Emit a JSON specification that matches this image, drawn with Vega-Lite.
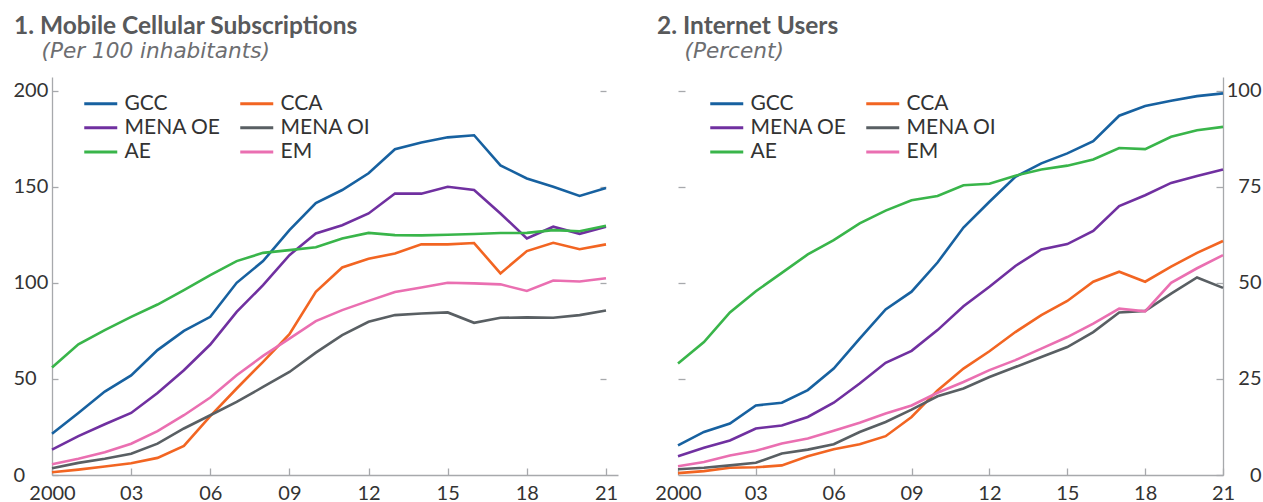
{
  "$schema": "https://vega.github.io/schema/vega-lite/v6.json",
  "background": "white",
  "padding": {"left": 13, "top": 13, "right": 2, "bottom": 0},
  "bounds": "flush",
  "spacing": 60,
  "config": {
    "font": "Lato",
    "view": {"stroke": null},
    "title": {"fontSize": 24.5, "fontWeight": "bold", "color": "#58595b", "anchor": "start", "frame": "group", "subtitleFont": "DejaVu Sans", "subtitleFontSize": 21.6, "subtitleFontStyle": "italic", "subtitleColor": "#6d6e71", "subtitlePadding": 2, "offset": 13.4},
    "axis": {"labelFont": "Lato", "labelFontSize": 20, "labelColor": "#333333", "domainColor": "#a7a9ac", "tickColor": "#a7a9ac", "domainWidth": 1.3, "tickWidth": 1.3, "grid": false, "title": null},
    "legend": {"labelFont": "Lato", "labelFontSize": 21, "labelColor": "#333333"}
  },
  "resolve": {"scale": {"color": "independent"}},
  "datasets": {
    "mobile": [
      {"year": 2000, "series": "GCC", "value": 21.5}, {"year": 2001, "series": "GCC", "value": 32.3}, {"year": 2002, "series": "GCC", "value": 43.4}, {"year": 2003, "series": "GCC", "value": 51.8}, {"year": 2004, "series": "GCC", "value": 65}, {"year": 2005, "series": "GCC", "value": 75}, {"year": 2006, "series": "GCC", "value": 82.3}, {"year": 2007, "series": "GCC", "value": 100}, {"year": 2008, "series": "GCC", "value": 111.3}, {"year": 2009, "series": "GCC", "value": 127.4}, {"year": 2010, "series": "GCC", "value": 141.5}, {"year": 2011, "series": "GCC", "value": 148.3}, {"year": 2012, "series": "GCC", "value": 157}, {"year": 2013, "series": "GCC", "value": 169.5}, {"year": 2014, "series": "GCC", "value": 173}, {"year": 2015, "series": "GCC", "value": 175.7}, {"year": 2016, "series": "GCC", "value": 176.8}, {"year": 2017, "series": "GCC", "value": 161.1}, {"year": 2018, "series": "GCC", "value": 154.3}, {"year": 2019, "series": "GCC", "value": 150}, {"year": 2020, "series": "GCC", "value": 145.2}, {"year": 2021, "series": "GCC", "value": 149.3},
      {"year": 2000, "series": "CCA", "value": 1.4}, {"year": 2001, "series": "CCA", "value": 2.8}, {"year": 2002, "series": "CCA", "value": 4.4}, {"year": 2003, "series": "CCA", "value": 6.1}, {"year": 2004, "series": "CCA", "value": 8.9}, {"year": 2005, "series": "CCA", "value": 15.1}, {"year": 2006, "series": "CCA", "value": 30.6}, {"year": 2007, "series": "CCA", "value": 45}, {"year": 2008, "series": "CCA", "value": 58.9}, {"year": 2009, "series": "CCA", "value": 73.3}, {"year": 2010, "series": "CCA", "value": 95.3}, {"year": 2011, "series": "CCA", "value": 108}, {"year": 2012, "series": "CCA", "value": 112.5}, {"year": 2013, "series": "CCA", "value": 115.3}, {"year": 2014, "series": "CCA", "value": 120}, {"year": 2015, "series": "CCA", "value": 120}, {"year": 2016, "series": "CCA", "value": 120.7}, {"year": 2017, "series": "CCA", "value": 104.9}, {"year": 2018, "series": "CCA", "value": 116.5}, {"year": 2019, "series": "CCA", "value": 120.8}, {"year": 2020, "series": "CCA", "value": 117.5}, {"year": 2021, "series": "CCA", "value": 120},
      {"year": 2000, "series": "MENA OE", "value": 13.2}, {"year": 2001, "series": "MENA OE", "value": 20.2}, {"year": 2002, "series": "MENA OE", "value": 26.4}, {"year": 2003, "series": "MENA OE", "value": 32.3}, {"year": 2004, "series": "MENA OE", "value": 42.7}, {"year": 2005, "series": "MENA OE", "value": 54.5}, {"year": 2006, "series": "MENA OE", "value": 67.9}, {"year": 2007, "series": "MENA OE", "value": 84.9}, {"year": 2008, "series": "MENA OE", "value": 98.8}, {"year": 2009, "series": "MENA OE", "value": 114.4}, {"year": 2010, "series": "MENA OE", "value": 125.7}, {"year": 2011, "series": "MENA OE", "value": 130}, {"year": 2012, "series": "MENA OE", "value": 136.1}, {"year": 2013, "series": "MENA OE", "value": 146.5}, {"year": 2014, "series": "MENA OE", "value": 146.4}, {"year": 2015, "series": "MENA OE", "value": 150}, {"year": 2016, "series": "MENA OE", "value": 148.3}, {"year": 2017, "series": "MENA OE", "value": 136.1}, {"year": 2018, "series": "MENA OE", "value": 123.1}, {"year": 2019, "series": "MENA OE", "value": 129.2}, {"year": 2020, "series": "MENA OE", "value": 125.5}, {"year": 2021, "series": "MENA OE", "value": 129.2},
      {"year": 2000, "series": "MENA OI", "value": 3.5}, {"year": 2001, "series": "MENA OI", "value": 6.3}, {"year": 2002, "series": "MENA OI", "value": 8.5}, {"year": 2003, "series": "MENA OI", "value": 11.1}, {"year": 2004, "series": "MENA OI", "value": 16.3}, {"year": 2005, "series": "MENA OI", "value": 24.2}, {"year": 2006, "series": "MENA OI", "value": 31.1}, {"year": 2007, "series": "MENA OI", "value": 38}, {"year": 2008, "series": "MENA OI", "value": 45.8}, {"year": 2009, "series": "MENA OI", "value": 53.6}, {"year": 2010, "series": "MENA OI", "value": 63.7}, {"year": 2011, "series": "MENA OI", "value": 72.8}, {"year": 2012, "series": "MENA OI", "value": 79.7}, {"year": 2013, "series": "MENA OI", "value": 83.2}, {"year": 2014, "series": "MENA OI", "value": 84}, {"year": 2015, "series": "MENA OI", "value": 84.6}, {"year": 2016, "series": "MENA OI", "value": 79.2}, {"year": 2017, "series": "MENA OI", "value": 81.8}, {"year": 2018, "series": "MENA OI", "value": 82}, {"year": 2019, "series": "MENA OI", "value": 81.8}, {"year": 2020, "series": "MENA OI", "value": 83.2}, {"year": 2021, "series": "MENA OI", "value": 85.6},
      {"year": 2000, "series": "AE", "value": 55.9}, {"year": 2001, "series": "AE", "value": 68}, {"year": 2002, "series": "AE", "value": 75.4}, {"year": 2003, "series": "AE", "value": 82.3}, {"year": 2004, "series": "AE", "value": 88.7}, {"year": 2005, "series": "AE", "value": 96.2}, {"year": 2006, "series": "AE", "value": 104}, {"year": 2007, "series": "AE", "value": 111.3}, {"year": 2008, "series": "AE", "value": 115.6}, {"year": 2009, "series": "AE", "value": 117}, {"year": 2010, "series": "AE", "value": 118.5}, {"year": 2011, "series": "AE", "value": 123.1}, {"year": 2012, "series": "AE", "value": 126}, {"year": 2013, "series": "AE", "value": 124.8}, {"year": 2014, "series": "AE", "value": 124.7}, {"year": 2015, "series": "AE", "value": 125}, {"year": 2016, "series": "AE", "value": 125.4}, {"year": 2017, "series": "AE", "value": 125.9}, {"year": 2018, "series": "AE", "value": 126}, {"year": 2019, "series": "AE", "value": 127.4}, {"year": 2020, "series": "AE", "value": 126.8}, {"year": 2021, "series": "AE", "value": 129.7},
      {"year": 2000, "series": "EM", "value": 5.6}, {"year": 2001, "series": "EM", "value": 8.5}, {"year": 2002, "series": "EM", "value": 11.8}, {"year": 2003, "series": "EM", "value": 16.3}, {"year": 2004, "series": "EM", "value": 22.8}, {"year": 2005, "series": "EM", "value": 31.1}, {"year": 2006, "series": "EM", "value": 40.3}, {"year": 2007, "series": "EM", "value": 51.9}, {"year": 2008, "series": "EM", "value": 62}, {"year": 2009, "series": "EM", "value": 71}, {"year": 2010, "series": "EM", "value": 80.1}, {"year": 2011, "series": "EM", "value": 85.8}, {"year": 2012, "series": "EM", "value": 90.6}, {"year": 2013, "series": "EM", "value": 95.2}, {"year": 2014, "series": "EM", "value": 97.6}, {"year": 2015, "series": "EM", "value": 100}, {"year": 2016, "series": "EM", "value": 99.7}, {"year": 2017, "series": "EM", "value": 99.2}, {"year": 2018, "series": "EM", "value": 95.8}, {"year": 2019, "series": "EM", "value": 101.2}, {"year": 2020, "series": "EM", "value": 100.7}, {"year": 2021, "series": "EM", "value": 102.4}
    ],
    "internet": [
      {"year": 2000, "series": "GCC", "value": 7.7}, {"year": 2001, "series": "GCC", "value": 11.2}, {"year": 2002, "series": "GCC", "value": 13.4}, {"year": 2003, "series": "GCC", "value": 18.1}, {"year": 2004, "series": "GCC", "value": 18.8}, {"year": 2005, "series": "GCC", "value": 22.1}, {"year": 2006, "series": "GCC", "value": 27.7}, {"year": 2007, "series": "GCC", "value": 35.5}, {"year": 2008, "series": "GCC", "value": 43.1}, {"year": 2009, "series": "GCC", "value": 47.7}, {"year": 2010, "series": "GCC", "value": 55.3}, {"year": 2011, "series": "GCC", "value": 64.4}, {"year": 2012, "series": "GCC", "value": 71.1}, {"year": 2013, "series": "GCC", "value": 77.6}, {"year": 2014, "series": "GCC", "value": 81.1}, {"year": 2015, "series": "GCC", "value": 83.7}, {"year": 2016, "series": "GCC", "value": 86.9}, {"year": 2017, "series": "GCC", "value": 93.5}, {"year": 2018, "series": "GCC", "value": 96}, {"year": 2019, "series": "GCC", "value": 97.4}, {"year": 2020, "series": "GCC", "value": 98.6}, {"year": 2021, "series": "GCC", "value": 99.3},
      {"year": 2000, "series": "CCA", "value": 0.5}, {"year": 2001, "series": "CCA", "value": 1}, {"year": 2002, "series": "CCA", "value": 1.9}, {"year": 2003, "series": "CCA", "value": 2}, {"year": 2004, "series": "CCA", "value": 2.5}, {"year": 2005, "series": "CCA", "value": 4.9}, {"year": 2006, "series": "CCA", "value": 6.7}, {"year": 2007, "series": "CCA", "value": 8}, {"year": 2008, "series": "CCA", "value": 10.1}, {"year": 2009, "series": "CCA", "value": 15.1}, {"year": 2010, "series": "CCA", "value": 22}, {"year": 2011, "series": "CCA", "value": 27.7}, {"year": 2012, "series": "CCA", "value": 32.2}, {"year": 2013, "series": "CCA", "value": 37.2}, {"year": 2014, "series": "CCA", "value": 41.6}, {"year": 2015, "series": "CCA", "value": 45.3}, {"year": 2016, "series": "CCA", "value": 50.3}, {"year": 2017, "series": "CCA", "value": 52.9}, {"year": 2018, "series": "CCA", "value": 50.3}, {"year": 2019, "series": "CCA", "value": 54.2}, {"year": 2020, "series": "CCA", "value": 57.8}, {"year": 2021, "series": "CCA", "value": 60.9},
      {"year": 2000, "series": "MENA OE", "value": 4.9}, {"year": 2001, "series": "MENA OE", "value": 7.1}, {"year": 2002, "series": "MENA OE", "value": 9}, {"year": 2003, "series": "MENA OE", "value": 12.1}, {"year": 2004, "series": "MENA OE", "value": 12.9}, {"year": 2005, "series": "MENA OE", "value": 15.1}, {"year": 2006, "series": "MENA OE", "value": 18.8}, {"year": 2007, "series": "MENA OE", "value": 23.8}, {"year": 2008, "series": "MENA OE", "value": 29.2}, {"year": 2009, "series": "MENA OE", "value": 32.3}, {"year": 2010, "series": "MENA OE", "value": 37.7}, {"year": 2011, "series": "MENA OE", "value": 43.9}, {"year": 2012, "series": "MENA OE", "value": 49}, {"year": 2013, "series": "MENA OE", "value": 54.4}, {"year": 2014, "series": "MENA OE", "value": 58.7}, {"year": 2015, "series": "MENA OE", "value": 60.1}, {"year": 2016, "series": "MENA OE", "value": 63.5}, {"year": 2017, "series": "MENA OE", "value": 70}, {"year": 2018, "series": "MENA OE", "value": 72.8}, {"year": 2019, "series": "MENA OE", "value": 76}, {"year": 2020, "series": "MENA OE", "value": 77.8}, {"year": 2021, "series": "MENA OE", "value": 79.5},
      {"year": 2000, "series": "MENA OI", "value": 1.5}, {"year": 2001, "series": "MENA OI", "value": 1.9}, {"year": 2002, "series": "MENA OI", "value": 2.5}, {"year": 2003, "series": "MENA OI", "value": 3.2}, {"year": 2004, "series": "MENA OI", "value": 5.6}, {"year": 2005, "series": "MENA OI", "value": 6.6}, {"year": 2006, "series": "MENA OI", "value": 8}, {"year": 2007, "series": "MENA OI", "value": 11.2}, {"year": 2008, "series": "MENA OI", "value": 13.8}, {"year": 2009, "series": "MENA OI", "value": 17}, {"year": 2010, "series": "MENA OI", "value": 20.5}, {"year": 2011, "series": "MENA OI", "value": 22.5}, {"year": 2012, "series": "MENA OI", "value": 25.5}, {"year": 2013, "series": "MENA OI", "value": 28.1}, {"year": 2014, "series": "MENA OI", "value": 30.7}, {"year": 2015, "series": "MENA OI", "value": 33.3}, {"year": 2016, "series": "MENA OI", "value": 37.2}, {"year": 2017, "series": "MENA OI", "value": 42.3}, {"year": 2018, "series": "MENA OI", "value": 42.7}, {"year": 2019, "series": "MENA OI", "value": 47.2}, {"year": 2020, "series": "MENA OI", "value": 51.4}, {"year": 2021, "series": "MENA OI", "value": 48.7},
      {"year": 2000, "series": "AE", "value": 29}, {"year": 2001, "series": "AE", "value": 34.6}, {"year": 2002, "series": "AE", "value": 42.3}, {"year": 2003, "series": "AE", "value": 47.8}, {"year": 2004, "series": "AE", "value": 52.6}, {"year": 2005, "series": "AE", "value": 57.4}, {"year": 2006, "series": "AE", "value": 61.1}, {"year": 2007, "series": "AE", "value": 65.5}, {"year": 2008, "series": "AE", "value": 68.8}, {"year": 2009, "series": "AE", "value": 71.5}, {"year": 2010, "series": "AE", "value": 72.6}, {"year": 2011, "series": "AE", "value": 75.4}, {"year": 2012, "series": "AE", "value": 75.8}, {"year": 2013, "series": "AE", "value": 77.9}, {"year": 2014, "series": "AE", "value": 79.5}, {"year": 2015, "series": "AE", "value": 80.5}, {"year": 2016, "series": "AE", "value": 82.1}, {"year": 2017, "series": "AE", "value": 85.1}, {"year": 2018, "series": "AE", "value": 84.8}, {"year": 2019, "series": "AE", "value": 88}, {"year": 2020, "series": "AE", "value": 89.7}, {"year": 2021, "series": "AE", "value": 90.6},
      {"year": 2000, "series": "EM", "value": 2.3}, {"year": 2001, "series": "EM", "value": 3.4}, {"year": 2002, "series": "EM", "value": 5.1}, {"year": 2003, "series": "EM", "value": 6.3}, {"year": 2004, "series": "EM", "value": 8.2}, {"year": 2005, "series": "EM", "value": 9.5}, {"year": 2006, "series": "EM", "value": 11.5}, {"year": 2007, "series": "EM", "value": 13.6}, {"year": 2008, "series": "EM", "value": 16}, {"year": 2009, "series": "EM", "value": 18.1}, {"year": 2010, "series": "EM", "value": 21.4}, {"year": 2011, "series": "EM", "value": 24.2}, {"year": 2012, "series": "EM", "value": 27.3}, {"year": 2013, "series": "EM", "value": 29.9}, {"year": 2014, "series": "EM", "value": 32.9}, {"year": 2015, "series": "EM", "value": 35.9}, {"year": 2016, "series": "EM", "value": 39.4}, {"year": 2017, "series": "EM", "value": 43.3}, {"year": 2018, "series": "EM", "value": 42.6}, {"year": 2019, "series": "EM", "value": 50}, {"year": 2020, "series": "EM", "value": 53.8}, {"year": 2021, "series": "EM", "value": 57.2}
    ]
  },
  "hconcat": [
    {
      "width": 566,
      "height": 398,
      "data": {"name": "mobile"},
      "title": {"text": "1. Mobile Cellular Subscriptions", "subtitle": "\u200b\u00a0\u00a0\u00a0\u00a0(Per 100 inhabitants)", "dx": -38},
      "encoding": {
        "x": {"field": "year", "type": "quantitative", "scale": {"domain": [2000, 2021.455], "nice": false, "zero": false},
          "axis": {"values": [2000, 2003, 2006, 2009, 2012, 2015, 2018, 2021], "labelExpr": "datum.value == 2000 ? '2000' : substring(toString(datum.value), 2)", "tickSize": -7, "labelPadding": 15, "labelFlush": false, "labelOverlap": false}}
      },
      "layer": [
        {
          "mark": {"type": "line", "strokeWidth": 2.6},
          "encoding": {
            "y": {"field": "value", "type": "quantitative", "scale": {"domain": [0, 207.1], "nice": false},
              "axis": {"orient": "left", "values": [0, 50, 100, 150, 200], "tickSize": -6, "labelPadding": 45, "labelAlign": "left", "labelFlush": false}},
            "color": {"field": "series", "type": "nominal",
              "scale": {"domain": ["GCC", "MENA OE", "AE", "CCA", "MENA OI", "EM"], "range": ["#1761a0", "#7030a0", "#39b54a", "#f26522", "#595f63", "#ea6fb1"]},
              "legend": {"title": null, "orient": "none", "legendX": 30, "legendY": 16, "columns": 2, "symbolType": "M-1,0H3", "symbolSize": 272.25, "symbolStrokeWidth": 3, "labelOffset": 21.5, "rowPadding": 2.3, "columnPadding": 13}}
          }
        },
        {
          "mark": {"type": "line", "strokeOpacity": 0},
          "encoding": {
            "detail": {"field": "series"},
            "y": {"field": "value", "type": "quantitative", "scale": {"domain": [0, 207.1], "nice": false},
              "axis": {"orient": "right", "values": [50, 100, 150, 200], "domain": false, "labels": false, "tickSize": 6, "offset": -18}}
          }
        }
      ],
      "resolve": {"axis": {"y": "independent"}}
    },
    {
      "width": 545,
      "height": 398,
      "data": {"name": "internet"},
      "title": {"text": "2. Internet Users", "subtitle": "\u200b\u00a0\u00a0\u00a0\u00a0(Percent)", "dx": -21},
      "encoding": {
        "x": {"field": "year", "type": "quantitative", "scale": {"domain": [2000, 2021], "nice": false, "zero": false},
          "axis": {"values": [2000, 2003, 2006, 2009, 2012, 2015, 2018, 2021], "labelExpr": "datum.value == 2000 ? '2000' : substring(toString(datum.value), 2)", "tickSize": -7, "labelPadding": 15, "labelFlush": false, "labelOverlap": false}}
      },
      "layer": [
        {
          "mark": {"type": "line", "strokeWidth": 2.6},
          "encoding": {
            "y": {"field": "value", "type": "quantitative", "scale": {"domain": [0, 103.57], "nice": false},
              "axis": {"orient": "right", "values": [0, 25, 50, 75, 100], "tickSize": -7, "labelPadding": 45, "labelAlign": "right", "labelFlush": false}},
            "color": {"field": "series", "type": "nominal",
              "scale": {"domain": ["GCC", "MENA OE", "AE", "CCA", "MENA OI", "EM"], "range": ["#1761a0", "#7030a0", "#39b54a", "#f26522", "#595f63", "#ea6fb1"]},
              "legend": {"title": null, "orient": "none", "legendX": 30, "legendY": 16, "columns": 2, "symbolType": "M-1,0H3", "symbolSize": 272.25, "symbolStrokeWidth": 3, "labelOffset": 21.5, "rowPadding": 2.3, "columnPadding": 13}}
          }
        },
        {
          "mark": {"type": "line", "strokeOpacity": 0},
          "encoding": {
            "detail": {"field": "series"},
            "y": {"field": "value", "type": "quantitative", "scale": {"domain": [0, 103.57], "nice": false},
              "axis": {"orient": "left", "values": [25, 50, 75, 100], "domain": false, "labels": false, "tickSize": -7}}
          }
        }
      ],
      "resolve": {"axis": {"y": "independent"}}
    }
  ]
}
